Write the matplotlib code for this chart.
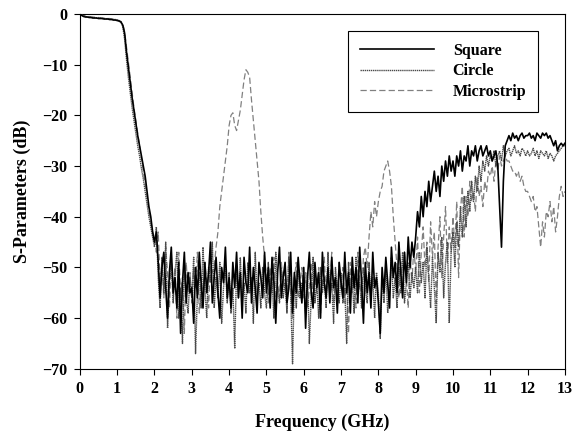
import numpy as np
import matplotlib
matplotlib.use("Agg")
import matplotlib.pyplot as plt

plt.rcParams['font.family'] = ['Liberation Serif', 'DejaVu Serif']
plt.rcParams['font.weight'] = 'bold'

# frequency grid, 0.05 GHz step (0 .. 13 GHz)
freq = np.round(np.arange(261) * 0.05, 2)

square = [
    0.0, -0.3, -0.5, -0.6, -0.6, -0.7, -0.7, -0.8, -0.8, -0.8, -0.9, -0.9, -0.9, -1.0, -1.0, -1.0, -1.1, -1.1, -1.2, -1.2,
    -1.3, -1.4, -1.6, -2.2, -3.8, -7.5, -10.5, -13.5, -16.5, -19.0, -21.5, -24.0, -26.0, -28.0, -30.0, -32.0, -35.0, -38.0, -40.0, -43.0,
    -45, -43, -49, -56, -50, -47, -54, -60, -51, -46, -55, -52, -58, -49, -63, -53, -47, -57, -51, -55,
    -54, -61, -50, -56, -47, -53, -58, -49, -55, -51, -45, -57, -52, -48, -55, -60, -50, -53, -46, -56,
    -52, -58, -49, -54, -47, -56, -51, -60, -48, -53, -55, -46, -57, -50, -54, -59, -49, -52, -56, -47,
    -55, -50, -58, -48, -53, -61, -51, -46, -56, -52, -49, -57, -54, -47, -59, -51, -55, -48, -53, -57,
    -50, -62, -52, -47, -55, -58, -49, -54, -51, -60, -47, -53, -56, -50, -57, -48, -54, -52, -59, -49,
    -53, -56, -47, -55, -51, -59, -48, -54, -50, -57, -46, -53, -61, -49, -55, -51, -58, -47, -54, -52,
    -57, -63, -50, -55, -48, -53, -58, -46, -52, -49, -55, -45, -51, -56, -47, -53, -44, -50, -45, -48,
    -44, -39, -42, -36, -40, -35, -38, -33, -37, -34, -31, -35, -32, -36, -30, -33, -29, -32, -28, -31,
    -29, -32, -28, -30, -27, -31, -28, -29, -26, -30, -27, -28, -26, -29, -27, -26, -28, -27, -26, -28,
    -27, -29, -28, -27, -30, -38, -46, -33, -26, -25, -24, -25, -23.5, -24.5, -24, -25, -24, -23.5, -24.5, -24,
    -24, -23.5, -24.5, -24, -25, -23.5, -24, -24.5, -23.5, -24, -23.5, -24.5, -24, -25, -26, -25, -27, -26, -25.5, -26,
    -25.5,
]

circle = [
    0.0, -0.2, -0.4, -0.5, -0.6, -0.6, -0.7, -0.7, -0.7, -0.8, -0.8, -0.8, -0.9, -0.9, -0.9, -1.0, -1.0, -1.0, -1.1, -1.1,
    -1.2, -1.3, -1.5, -2.5, -5.0, -9.0, -12.5, -15.5, -18.5, -21.0, -23.5, -26.0, -28.0, -30.5, -32.5, -35.0, -37.5, -40.0, -42.0, -44.0,
    -46, -42, -52, -58, -48, -55, -45, -62, -53, -49, -57, -51, -47, -60, -54, -65, -50, -56, -59, -52,
    -56, -48, -67, -55, -51, -58, -46, -54, -60, -50, -53, -45, -58, -52, -56, -49, -61, -54, -50, -57,
    -51, -59, -54, -66, -50, -56, -48, -57, -53, -59, -49, -55, -52, -61, -47, -56, -53, -58, -50, -55,
    -58, -49, -55, -52, -60, -47, -54, -57, -50, -56, -53, -59, -48, -55, -69, -52, -58, -50, -56, -53,
    -54, -59, -51, -65, -56, -48, -57, -53, -60, -50, -55, -52, -58, -47, -56, -53, -61, -50, -54, -57,
    -51, -57, -54, -65, -49, -56, -52, -59, -48, -55, -53, -58, -50, -54, -57, -49, -56, -52, -60, -51,
    -55, -64, -52, -57, -50, -59, -54, -48, -56, -52, -58, -50, -55, -47, -57, -53, -49, -56, -51, -54,
    -50, -55, -47, -53, -49, -56, -46, -52, -58, -48, -54, -61, -47, -51, -44, -56, -49, -45, -61, -47,
    -43, -50, -41, -46, -38, -44, -36, -42, -35, -39, -33, -37, -32, -35, -30, -33, -29, -31, -28, -30,
    -28, -29, -27, -30, -28, -27, -29, -26, -28, -27, -26.5, -28, -27, -26, -27.5, -27, -28, -26.5, -27, -28,
    -27, -28, -27.5, -26.5, -28, -27, -28.5, -27, -27.5, -28, -27, -28.5, -27.5, -28, -29, -28, -27.5, -27, -26.5, -26,
    -26,
]

microstrip = [
    0.0, -0.2, -0.3, -0.4, -0.5, -0.5, -0.6, -0.6, -0.7, -0.7, -0.7, -0.8, -0.8, -0.8, -0.9, -0.9, -0.9, -1.0, -1.0, -1.1,
    -1.2, -1.3, -1.5, -2.0, -3.5, -6.5, -9.5, -12.5, -15.5, -18.5, -21.0, -23.5, -26.0, -28.5, -31.0, -33.5, -36.0, -38.5, -41.0, -43.0,
    -44, -47, -43, -53, -49, -56, -46, -51, -58, -48, -54, -50, -60, -47, -55, -52, -63, -49, -55, -51,
    -57, -50, -54, -47, -59, -52, -56, -49, -53, -58, -48, -51, -50, -46, -43, -38, -35, -32, -29, -26,
    -22, -20, -19.5, -22, -23, -21, -19, -16, -13, -11, -11.5, -12.5, -17, -21, -25, -29, -33, -39, -44, -48,
    -52, -57, -50, -55, -48, -59, -53, -56, -49, -54, -51, -58, -47, -55, -60, -52, -49, -56, -53, -50,
    -56, -51, -58, -54, -49, -57, -52, -55, -50, -59, -53, -48, -56, -51, -54, -47, -57, -52, -55, -49,
    -54, -50, -57, -53, -63, -49, -55, -51, -58, -47, -53, -56, -48, -46, -50, -44, -39, -42, -37, -40,
    -37, -35, -34, -31, -30, -29, -31, -34, -40, -45, -50, -56, -49, -54, -47, -52, -58, -48, -53, -46,
    -51, -44, -55, -47, -42, -50, -45, -53, -41, -48, -43, -57, -46, -40, -52, -44, -38, -49, -42, -47,
    -40, -46, -37, -52, -39, -34, -44, -36, -40, -33, -37, -35, -39, -32, -36, -34, -38, -33, -35, -31,
    -32, -30, -33, -29, -31, -28, -30, -29, -28, -29, -29, -30, -31, -31, -32, -31, -33, -32, -34, -35,
    -35, -36, -37, -36, -39, -38, -42, -46, -41, -44, -39, -40, -37, -41, -38, -43, -40, -36, -34, -36,
    -35,
]

fig = plt.figure(figsize=(5.83, 4.36), dpi=100)
ax = fig.add_axes([0.137, 0.154, 0.832, 0.814])

ax.plot(freq, microstrip, color='#808080', lw=0.9, linestyle=(0, (5, 2.5)), label='Microstrip', zorder=2)
ax.plot(freq, circle, color='#4a4a4a', lw=1.0, linestyle=(0, (1, 0.5)), label='Circle', zorder=3)
ax.plot(freq, square, color='black', lw=1.2, label='Square', zorder=4)

ax.set_xlim(0, 13)
ax.set_ylim(-70, 0)
ax.set_xticks(range(0, 14))
ax.set_yticks(range(-70, 1, 10))
ax.tick_params(direction='out', length=4, width=0.8, labelsize=11.5, pad=5)
for lab in ax.get_xticklabels() + ax.get_yticklabels():
    lab.set_fontweight('bold')

ax.set_xlabel('Frequency (GHz)', fontsize=13, fontweight='bold', labelpad=12)
ax.set_ylabel('S-Parameters (dB)', fontsize=13, fontweight='bold', labelpad=8)

handles, labels = ax.get_legend_handles_labels()
order = [2, 1, 0]
leg = ax.legend([handles[i] for i in order], [labels[i] for i in order],
                loc='upper left', bbox_to_anchor=(0.553, 0.952), borderaxespad=0,
                handlelength=4.6, handletextpad=1.2, borderpad=0.75, labelspacing=0.28,
                fancybox=False, edgecolor='black', framealpha=1,
                prop={'weight': 'bold', 'size': 11.5})
leg.get_frame().set_linewidth(0.8)

for s in ax.spines.values():
    s.set_linewidth(0.8)

fig.savefig('out.png', dpi=100)
